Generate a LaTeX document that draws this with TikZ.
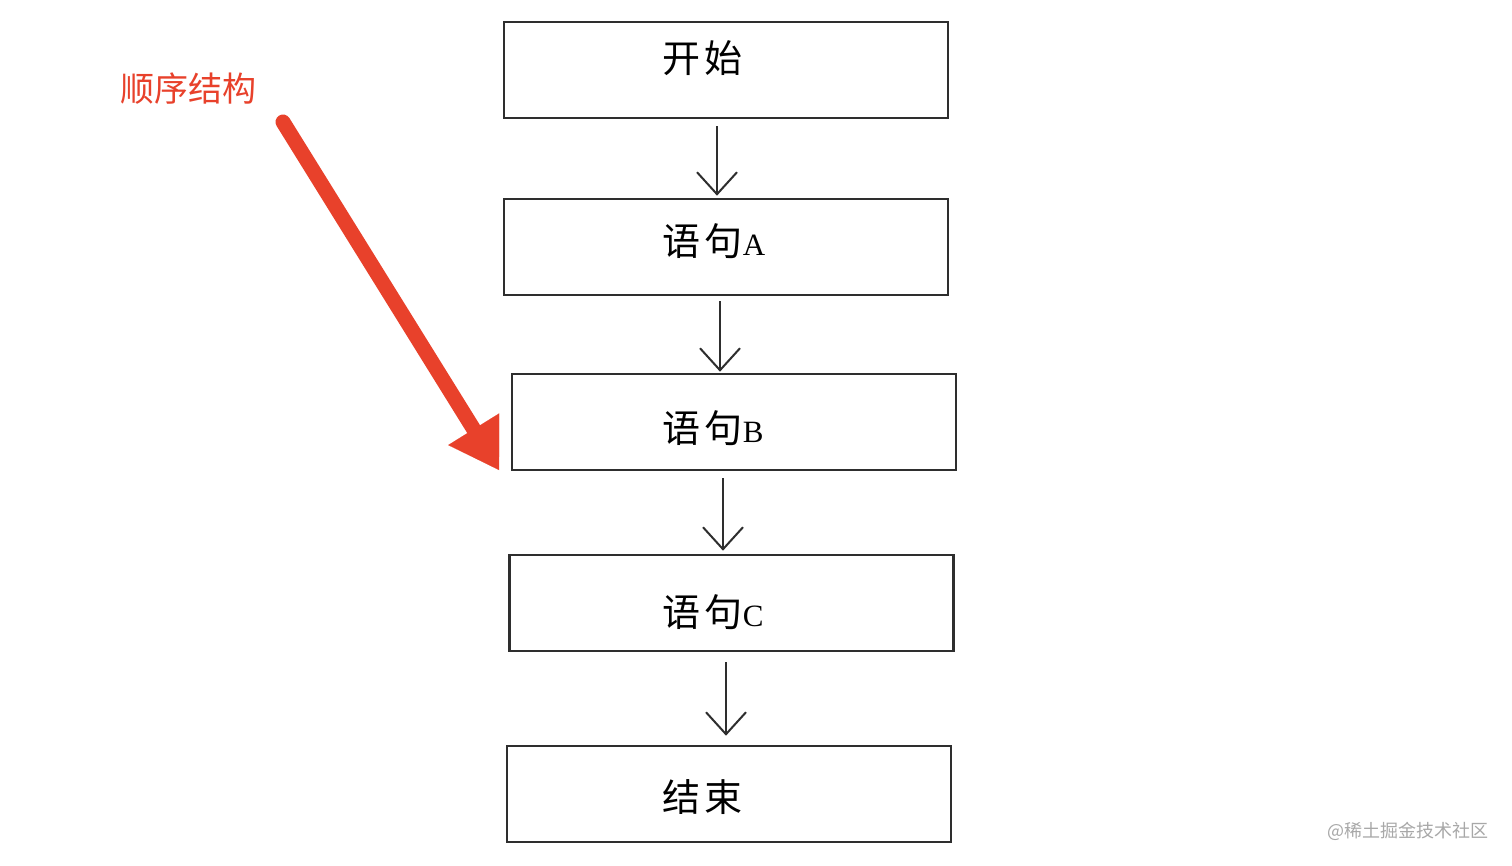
\documentclass[tikz,border=0pt]{standalone}
\usepackage{fontspec}
\usetikzlibrary{arrows.meta}
\newfontfamily\cjk{Noto Sans CJK SC}
\newfontfamily\cjkw{Noto Sans CJK SC}[LetterSpace=12]
\newfontfamily\latserif{Liberation Serif}
\definecolor{boxline}{HTML}{2E2E2E}
\definecolor{redmark}{HTML}{E8412B}
\definecolor{wmgray}{HTML}{A8A8A8}
\begin{document}
\begin{tikzpicture}[x=1pt,y=-1pt,
  stepbox/.style={draw=boxline,line width=2.6pt,minimum width=444pt,minimum height=96pt,inner sep=0pt},
  boxlabel/.style={anchor=west,inner sep=0pt,font=\fontsize{38}{40}\selectfont\cjkw},
  latin/.style={},
  flow/.style={draw=boxline,line width=2pt,-{Straight Barb[length=22pt,width=40pt,line width=2pt]}},
  redarrow/.style={draw=redmark,line width=15pt,line cap=round,-{Triangle[length=48pt,width=60pt,line width=0.1pt]}}]
\useasboundingbox (0,0) rectangle (1512,865);
\fill[white] (0,0) rectangle (1512,865);
% boxes
\node[stepbox] (start) at (726,70) {};
\node[stepbox] (sa) at (726,247) {};
\node[stepbox] (sb) at (734,422) {};
\node[stepbox] (sc) at (731.5,603) {};
\node[stepbox] (fin) at (729,794) {};
% labels
\node[boxlabel] (lstart) at (662,58) {开始};
\node[boxlabel] (la) at (662,241) {语句{\fontsize{31}{34}\selectfont\latserif A}};
\node[boxlabel] (lb) at (662,428) {语句{\fontsize{31}{34}\selectfont\latserif B}};
\node[boxlabel] (lc) at (662,612) {语句{\fontsize{31}{34}\selectfont\latserif C}};
\node[boxlabel] (lfin) at (662,797) {结束};
% flow arrows
\draw[flow] ([xshift=-9pt,yshift=-7pt]start.south) -- ([xshift=-9pt,yshift=2pt]sa.north);
\draw[flow] ([xshift=-6pt,yshift=-5pt]sa.south) -- ([xshift=-14pt,yshift=1pt]sb.north);
\draw[flow] ([xshift=-11pt,yshift=-7pt]sb.south) -- ([xshift=-8.5pt,yshift=3pt]sc.north);
\draw[flow] ([xshift=-5.5pt,yshift=-10pt]sc.south) -- ([xshift=-3pt,yshift=9pt]fin.north);
% red annotation
\node[text=redmark,font=\fontsize{34}{36}\selectfont\cjk,inner sep=0pt] (title) at (188,89) {顺序结构};
\coordinate (rs) at (283,122);
\coordinate (rt) at (499,470);
\draw[redarrow] (rs) -- (rt);
% watermark
\node[text=wmgray,font=\fontsize{18}{20}\selectfont\cjk,anchor=east,inner sep=0pt] (wm) at (1489,831) {@稀土掘金技术社区};
\end{tikzpicture}
\end{document}
